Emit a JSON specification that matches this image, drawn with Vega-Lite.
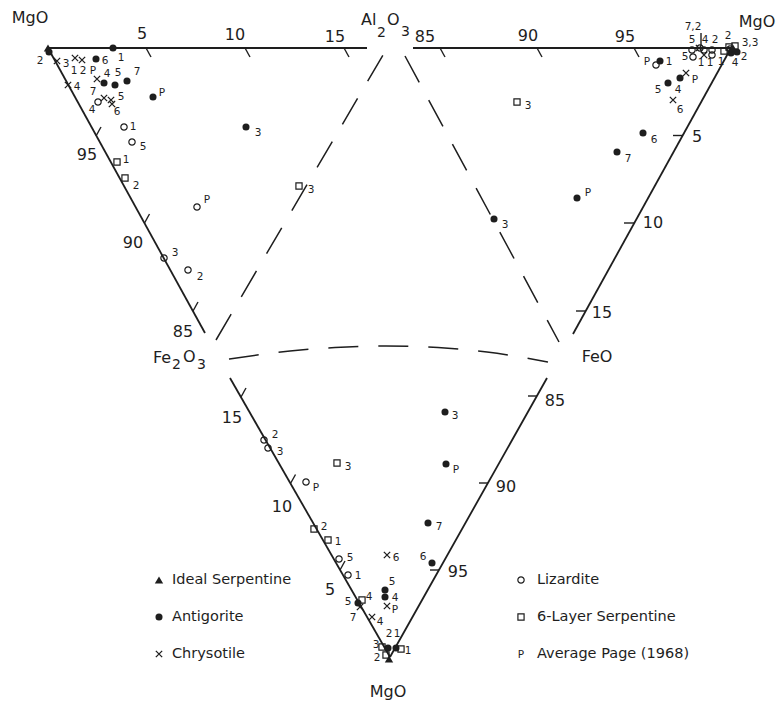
{
  "$schema": "https://vega.github.io/schema/vega-lite/v6.json",
  "width": 777,
  "height": 701,
  "autosize": {"type": "fit", "contains": "padding"},
  "padding": 0,
  "background": "white",
  "config": {"view": {"stroke": null}, "font": "DejaVu Sans"},
  "datasets": {
    "edges": [
      {"x": 48, "y": 48, "x2": 367, "y2": 48},
      {"x": 48, "y": 48, "x2": 205, "y2": 333},
      {"x": 413, "y": 48, "x2": 731, "y2": 48},
      {"x": 731, "y": 48, "x2": 573, "y2": 334},
      {"x": 230, "y": 378, "x2": 390, "y2": 657},
      {"x": 390, "y": 657, "x2": 547, "y2": 378}
    ],
    "ticks": [
      {"x": 146, "y": 48, "x2": 151, "y2": 57},
      {"x": 245, "y": 48, "x2": 250, "y2": 57},
      {"x": 344, "y": 48, "x2": 349, "y2": 57},
      {"x": 96, "y": 136, "x2": 101, "y2": 127},
      {"x": 144.5, "y": 223, "x2": 149.5, "y2": 214},
      {"x": 193, "y": 311, "x2": 198, "y2": 302},
      {"x": 440, "y": 48, "x2": 445, "y2": 57},
      {"x": 537, "y": 48, "x2": 542, "y2": 57},
      {"x": 634, "y": 48, "x2": 639, "y2": 57},
      {"x": 673, "y": 135.5, "x2": 683, "y2": 135.5},
      {"x": 624, "y": 223, "x2": 634, "y2": 223},
      {"x": 576, "y": 311, "x2": 586, "y2": 311},
      {"x": 340, "y": 570, "x2": 345, "y2": 561},
      {"x": 290.5, "y": 483.5, "x2": 295.5, "y2": 474.5},
      {"x": 241, "y": 397, "x2": 246, "y2": 388},
      {"x": 430, "y": 570, "x2": 439, "y2": 570},
      {"x": 479, "y": 483, "x2": 488, "y2": 483},
      {"x": 528, "y": 396, "x2": 537, "y2": 396},
      {"x": 701, "y": 33, "x2": 701, "y2": 46}
    ],
    "dashed": [
      {"g": "l", "i": 0, "x": 216, "y": 340},
      {"g": "l", "i": 1, "x": 383, "y": 55},
      {"g": "r", "i": 0, "x": 405, "y": 56},
      {"g": "r", "i": 1, "x": 559, "y": 342},
      {"g": "b", "i": 0, "x": 229, "y": 359},
      {"g": "b", "i": 1, "x": 290, "y": 351},
      {"g": "b", "i": 2, "x": 335, "y": 347.5},
      {"g": "b", "i": 3, "x": 386, "y": 346},
      {"g": "b", "i": 4, "x": 438, "y": 347.5},
      {"g": "b", "i": 5, "x": 487, "y": 352},
      {"g": "b", "i": 6, "x": 548, "y": 362}
    ],
    "pts": [
      {"t": "I", "x": 48, "y": 48},
      {"t": "A", "x": 49, "y": 52, "lab": "2", "lx": 40, "ly": 61},
      {"t": "C", "x": 57, "y": 61, "lab": "3", "lx": 66, "ly": 64},
      {"t": "A", "x": 113, "y": 48, "lab": "1", "lx": 121, "ly": 58},
      {"t": "C", "x": 75, "y": 58, "lab": "1", "lx": 74, "ly": 71},
      {"t": "C", "x": 82, "y": 60, "lab": "2", "lx": 83, "ly": 71},
      {"t": "A", "x": 96, "y": 59, "lab": "6", "lx": 105, "ly": 61},
      {"t": "C", "x": 97, "y": 79, "lab": "P", "lx": 93, "ly": 71},
      {"t": "A", "x": 104, "y": 83, "lab": "4", "lx": 107, "ly": 74},
      {"t": "A", "x": 115, "y": 85, "lab": "5", "lx": 118, "ly": 73},
      {"t": "A", "x": 127, "y": 81, "lab": "7", "lx": 137, "ly": 72},
      {"t": "L", "x": 98, "y": 102, "lab": "4", "lx": 92, "ly": 110},
      {"t": "C", "x": 104, "y": 98, "lab": "7", "lx": 93, "ly": 92},
      {"t": "C", "x": 111, "y": 100, "lab": "5", "lx": 121, "ly": 97},
      {"t": "C", "x": 112, "y": 104, "lab": "6", "lx": 117, "ly": 112},
      {"t": "C", "x": 68, "y": 85, "lab": "4", "lx": 77, "ly": 87},
      {"t": "A", "x": 153, "y": 97, "lab": "P", "lx": 162, "ly": 93},
      {"t": "L", "x": 124, "y": 127, "lab": "1", "lx": 133, "ly": 127},
      {"t": "L", "x": 132, "y": 142, "lab": "5", "lx": 143, "ly": 147},
      {"t": "S", "x": 117, "y": 162, "lab": "1", "lx": 126, "ly": 160},
      {"t": "S", "x": 125, "y": 178, "lab": "2", "lx": 136, "ly": 186},
      {"t": "L", "x": 197, "y": 207, "lab": "P", "lx": 207, "ly": 200},
      {"t": "L", "x": 164, "y": 258, "lab": "3", "lx": 175, "ly": 253},
      {"t": "L", "x": 188, "y": 270, "lab": "2", "lx": 200, "ly": 277},
      {"t": "A", "x": 246, "y": 127, "lab": "3", "lx": 258, "ly": 133},
      {"t": "S", "x": 299, "y": 186, "lab": "3", "lx": 311, "ly": 190},
      {"t": "I", "x": 733, "y": 48},
      {"t": "S", "x": 735, "y": 46, "lab": "3,3", "lx": 750, "ly": 43},
      {"t": "L", "x": 730, "y": 49},
      {"t": "S", "x": 729, "y": 47, "lab": "2", "lx": 728, "ly": 36},
      {"t": "A", "x": 737, "y": 52, "lab": "2", "lx": 744, "ly": 57},
      {"t": "A", "x": 731, "y": 53, "lab": "4", "lx": 735, "ly": 63},
      {"t": "S", "x": 724, "y": 51, "lab": "1", "lx": 721, "ly": 62},
      {"t": "L", "x": 692, "y": 50, "lab": "5", "lx": 692, "ly": 40},
      {"t": "L", "x": 704, "y": 50, "lab": "4", "lx": 705, "ly": 40},
      {"t": "L", "x": 712, "y": 50, "lab": "2", "lx": 715, "ly": 40},
      {"t": "L", "x": 700, "y": 48, "lab": "7,2", "lx": 693, "ly": 27},
      {"t": "C", "x": 699, "y": 48},
      {"t": "L", "x": 693, "y": 57, "lab": "5", "lx": 685, "ly": 57},
      {"t": "C", "x": 704, "y": 55, "lab": "1", "lx": 701, "ly": 63},
      {"t": "L", "x": 712, "y": 55, "lab": "1", "lx": 710, "ly": 63},
      {"t": "L", "x": 656, "y": 65, "lab": "P", "lx": 647, "ly": 62},
      {"t": "A", "x": 660, "y": 61, "lab": "1", "lx": 669, "ly": 62},
      {"t": "A", "x": 680, "y": 78, "lab": "4", "lx": 678, "ly": 90},
      {"t": "C", "x": 686, "y": 73, "lab": "P", "lx": 695, "ly": 80},
      {"t": "A", "x": 668, "y": 83, "lab": "5", "lx": 658, "ly": 90},
      {"t": "C", "x": 673, "y": 100, "lab": "6", "lx": 680, "ly": 110},
      {"t": "A", "x": 643, "y": 133, "lab": "6", "lx": 654, "ly": 140},
      {"t": "A", "x": 617, "y": 152, "lab": "7", "lx": 628, "ly": 159},
      {"t": "A", "x": 577, "y": 198, "lab": "P", "lx": 588, "ly": 193},
      {"t": "A", "x": 494, "y": 219, "lab": "3", "lx": 505, "ly": 225},
      {"t": "S", "x": 517, "y": 102, "lab": "3", "lx": 528, "ly": 106},
      {"t": "A", "x": 445, "y": 412, "lab": "3", "lx": 455, "ly": 416},
      {"t": "A", "x": 446, "y": 464, "lab": "P", "lx": 456, "ly": 470},
      {"t": "A", "x": 428, "y": 523, "lab": "7", "lx": 439, "ly": 527},
      {"t": "L", "x": 264, "y": 440, "lab": "2", "lx": 275, "ly": 435},
      {"t": "L", "x": 268, "y": 448, "lab": "3", "lx": 280, "ly": 452},
      {"t": "L", "x": 306, "y": 482, "lab": "P", "lx": 316, "ly": 488},
      {"t": "S", "x": 337, "y": 463, "lab": "3", "lx": 348, "ly": 467},
      {"t": "S", "x": 314, "y": 529, "lab": "2", "lx": 324, "ly": 527},
      {"t": "S", "x": 328, "y": 540, "lab": "1", "lx": 338, "ly": 542},
      {"t": "L", "x": 339, "y": 559, "lab": "5", "lx": 350, "ly": 558},
      {"t": "L", "x": 348, "y": 575, "lab": "1", "lx": 358, "ly": 576},
      {"t": "C", "x": 387, "y": 555, "lab": "6", "lx": 396, "ly": 558},
      {"t": "A", "x": 432, "y": 563, "lab": "6", "lx": 423, "ly": 557},
      {"t": "A", "x": 385, "y": 590, "lab": "5", "lx": 392, "ly": 582},
      {"t": "A", "x": 385, "y": 597, "lab": "4", "lx": 395, "ly": 598},
      {"t": "C", "x": 387, "y": 606, "lab": "P", "lx": 395, "ly": 610},
      {"t": "S", "x": 362, "y": 600, "lab": "4", "lx": 369, "ly": 597},
      {"t": "A", "x": 358, "y": 603, "lab": "5", "lx": 348, "ly": 602},
      {"t": "C", "x": 360, "y": 607, "lab": "7", "lx": 353, "ly": 618},
      {"t": "C", "x": 372, "y": 617, "lab": "4", "lx": 380, "ly": 622},
      {"t": "I", "x": 389, "y": 659},
      {"t": "A", "x": 388, "y": 648, "lab": "2", "lx": 389, "ly": 634},
      {"t": "A", "x": 396, "y": 648, "lab": "1", "lx": 397, "ly": 634},
      {"t": "S", "x": 382, "y": 647, "lab": "3", "lx": 376, "ly": 645},
      {"t": "S", "x": 386, "y": 655, "lab": "2", "lx": 377, "ly": 658},
      {"t": "S", "x": 401, "y": 649, "lab": "1", "lx": 408, "ly": 651},
      {"t": "I", "x": 159, "y": 580},
      {"t": "A", "x": 159, "y": 617},
      {"t": "C", "x": 159, "y": 654},
      {"t": "L", "x": 521, "y": 580},
      {"t": "S", "x": 521, "y": 617},
      {"t": "P", "x": 521, "y": 654, "lab": "P", "lx": 521, "ly": 655}
    ],
    "tlabels": [
      {"x": 142, "y": 34, "text": "5"},
      {"x": 235, "y": 35, "text": "10"},
      {"x": 335, "y": 37, "text": "15"},
      {"x": 87, "y": 155, "text": "95"},
      {"x": 133, "y": 243, "text": "90"},
      {"x": 183, "y": 332, "text": "85"},
      {"x": 425, "y": 37, "text": "85"},
      {"x": 528, "y": 36, "text": "90"},
      {"x": 625, "y": 37, "text": "95"},
      {"x": 697, "y": 137, "text": "5"},
      {"x": 653, "y": 223, "text": "10"},
      {"x": 602, "y": 313, "text": "15"},
      {"x": 232, "y": 418, "text": "15"},
      {"x": 282, "y": 507, "text": "10"},
      {"x": 330, "y": 590, "text": "5"},
      {"x": 555, "y": 401, "text": "85"},
      {"x": 506, "y": 487, "text": "90"},
      {"x": 458, "y": 572, "text": "95"}
    ],
    "corners": [
      {"x": 30, "y": 18, "text": "MgO", "k": "main"},
      {"x": 361, "y": 20, "text": "Al", "k": "left"},
      {"x": 377, "y": 33, "text": "2", "k": "sub"},
      {"x": 387, "y": 20, "text": "O", "k": "left"},
      {"x": 401, "y": 32, "text": "3", "k": "sub"},
      {"x": 757, "y": 22, "text": "MgO", "k": "main"},
      {"x": 153, "y": 358, "text": "Fe", "k": "left"},
      {"x": 172, "y": 365, "text": "2", "k": "sub"},
      {"x": 183, "y": 357, "text": "O", "k": "left"},
      {"x": 197, "y": 365, "text": "3", "k": "sub"},
      {"x": 597, "y": 357, "text": "FeO", "k": "main"},
      {"x": 388, "y": 692, "text": "MgO", "k": "main"}
    ],
    "legend": [
      {"x": 172, "y": 580, "text": "Ideal Serpentine"},
      {"x": 172, "y": 617, "text": "Antigorite"},
      {"x": 172, "y": 654, "text": "Chrysotile"},
      {"x": 537, "y": 580, "text": "Lizardite"},
      {"x": 537, "y": 617, "text": "6-Layer Serpentine"},
      {"x": 537, "y": 654, "text": "Average Page (1968)"}
    ]
  },
  "encoding": {
    "x": {"field": "x", "type": "quantitative", "scale": {"domain": [0, 777], "nice": false, "zero": false}, "axis": null},
    "y": {"field": "y", "type": "quantitative", "scale": {"domain": [0, 701], "reverse": true, "nice": false, "zero": false}, "axis": null}
  },
  "layer": [
    {
      "data": {"name": "edges"},
      "mark": {"type": "rule", "color": "#1e1e1e", "strokeWidth": 1.8},
      "encoding": {"x2": {"field": "x2"}, "y2": {"field": "y2"}}
    },
    {
      "data": {"name": "ticks"},
      "mark": {"type": "rule", "color": "#1e1e1e", "strokeWidth": 1.4},
      "encoding": {"x2": {"field": "x2"}, "y2": {"field": "y2"}}
    },
    {
      "data": {"name": "dashed"},
      "mark": {"type": "line", "color": "#1e1e1e", "strokeWidth": 1.5, "strokeDash": [30, 20], "interpolate": "monotone"},
      "encoding": {"detail": {"field": "g"}, "order": {"field": "i", "type": "quantitative"}}
    },
    {
      "data": {"name": "pts"},
      "transform": [{"filter": "datum.t == 'A'"}],
      "mark": {"type": "point", "shape": "circle", "filled": true, "size": 50, "color": "#1e1e1e", "opacity": 1}
    },
    {
      "data": {"name": "pts"},
      "transform": [{"filter": "datum.t == 'L'"}],
      "mark": {"type": "point", "shape": "circle", "filled": false, "size": 40, "color": "#1e1e1e", "strokeWidth": 1.2, "opacity": 1}
    },
    {
      "data": {"name": "pts"},
      "transform": [{"filter": "datum.t == 'S'"}],
      "mark": {"type": "point", "shape": "square", "filled": false, "size": 38, "color": "#1e1e1e", "strokeWidth": 1.2, "opacity": 1}
    },
    {
      "data": {"name": "pts"},
      "transform": [{"filter": "datum.t == 'C'"}],
      "mark": {"type": "point", "shape": "M-1,-1L1,1M-1,1L1,-1", "filled": false, "size": 40, "color": "#1e1e1e", "strokeWidth": 1.3, "opacity": 1}
    },
    {
      "data": {"name": "pts"},
      "transform": [{"filter": "datum.t == 'I'"}],
      "mark": {"type": "point", "shape": "triangle-up", "filled": true, "size": 70, "color": "#1e1e1e", "opacity": 1}
    },
    {
      "data": {"name": "pts"},
      "transform": [{"filter": "datum.lab != null"}],
      "mark": {"type": "text", "fontSize": 10.5, "color": "#1e1e1e", "align": "center", "baseline": "middle"},
      "encoding": {
        "x": {"field": "lx", "type": "quantitative"},
        "y": {"field": "ly", "type": "quantitative"},
        "text": {"field": "lab"}
      }
    },
    {
      "data": {"name": "tlabels"},
      "mark": {"type": "text", "fontSize": 16, "color": "#1e1e1e", "align": "center", "baseline": "middle"},
      "encoding": {"text": {"field": "text"}}
    },
    {
      "data": {"name": "corners"},
      "transform": [{"filter": "datum.k == 'main'"}],
      "mark": {"type": "text", "fontSize": 16, "color": "#1e1e1e", "align": "center", "baseline": "middle"},
      "encoding": {"text": {"field": "text"}}
    },
    {
      "data": {"name": "corners"},
      "transform": [{"filter": "datum.k == 'left'"}],
      "mark": {"type": "text", "fontSize": 16, "color": "#1e1e1e", "align": "left", "baseline": "middle"},
      "encoding": {"text": {"field": "text"}}
    },
    {
      "data": {"name": "corners"},
      "transform": [{"filter": "datum.k == 'sub'"}],
      "mark": {"type": "text", "fontSize": 14, "color": "#1e1e1e", "align": "left", "baseline": "middle"},
      "encoding": {"text": {"field": "text"}}
    },
    {
      "data": {"name": "legend"},
      "mark": {"type": "text", "fontSize": 14.5, "color": "#1e1e1e", "align": "left", "baseline": "middle"},
      "encoding": {"text": {"field": "text"}}
    }
  ]
}
